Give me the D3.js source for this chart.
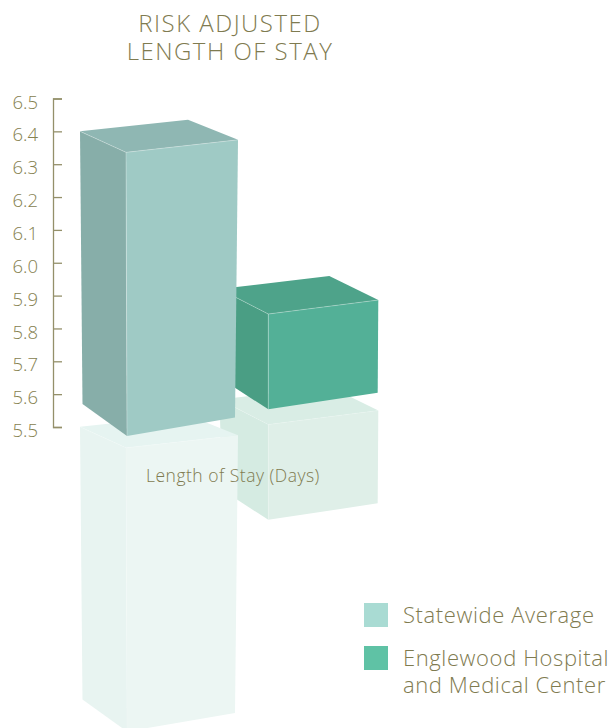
<!DOCTYPE html>
<html><head><meta charset="utf-8">
<script src="https://cdn.jsdelivr.net/npm/d3@7"></script>
<style>html,body{margin:0;padding:0;background:#fff}svg{display:block}
text{font-family:"Open Sans",sans-serif;font-weight:300;fill:#7f7b50}
.axis text{font-size:18.5px;fill:#85814f}.axis path,.axis line{stroke:#94906a;stroke-width:1.3;fill:none}</style>
</head><body><svg id="c" width="609" height="728"></svg>
<script>
// ---- data ----
const categories = ["Statewide Average", "Englewood Hospital and Medical Center"];
const values = [6.4, 5.92];
const baseValues = [5.57, 5.645];
const tickValues = [5.5, 5.6, 5.7, 5.8, 5.9, 6.0, 6.1, 6.2, 6.3, 6.4, 6.5];
const titleLines = ["RISK ADJUSTED", "LENGTH OF STAY"];
const axisLabel = "Length of Stay (Days)";
const legendLines = [["Statewide Average"], ["Englewood Hospital", "and Medical Center"]];

// ---- styles / projection ----
const palette = [
  {front:"#9fcac5", left:"#87aea9", top:"#8fb7b3", rFront:"#ecf6f3", rLeft:"#e8f4f1", rTop:"#e6f4f1", swatch:"#a9dbd3"},
  {front:"#53b097", left:"#4a9e84", top:"#4ea38a", rFront:"#dfefe8", rLeft:"#d5ebe2", rTop:"#d9ede5", swatch:"#5fc2a5"}
];
const projection = [
  {tf:[46,21], tr:[158,8.5], tb:[108,-11.5], bl:[2.5,0], bf:[47,32], br:[155,13.5], shift:295.5},
  {tf:[48.8,25], tr:[158.8,11], tb:[109.8,-13], bl:[2.5,0], bf:[48.8,30], br:[158.2,13.5], shift:110.5}
];

const svg = d3.select("#c");
const y = d3.scaleLinear().domain([5.5, 6.5]).range([427, 98.5]);
const x = d3.scaleBand().domain(categories).range([80, 359]);
const poly = d3.line();

function faces(i) {
  const p = projection[i], X = x(categories[i]), T = y(values[i]), B = y(baseValues[i]);
  const at = (o, Y) => [X + o[0], Y + o[1]];
  const tl = [X, T], tf = at(p.tf, T), tr = at(p.tr, T), tb = at(p.tb, T);
  const bl = at(p.bl, B), bf = at(p.bf, B), br = at(p.br, B);
  return {tl, tf, tr, tb, bl, bf, br};
}
function drawBar(i, reflected) {
  const f = faces(i), c = palette[i];
  const g = svg.append("g");
  if (reflected) g.attr("transform", `translate(0,${projection[i].shift})`);
  const fill = reflected ? [c.rLeft, c.rFront, c.rTop] : [c.left, c.front, c.top];
  [[f.tl, f.tf, f.bf, f.bl], [f.tf, f.tr, f.br, f.bf], [f.tl, f.tb, f.tr, f.tf]].forEach((pts, k) => {
    g.append("path").attr("d", poly(pts) + "Z").attr("fill", fill[k]);
  });
  g.append("path").attr("d", poly([f.tl, f.tf, f.tr]) + poly([f.tf, f.bf]))
    .attr("fill", "none").attr("stroke", "#fff")
    .attr("stroke-opacity", reflected ? 0.2 : 0.4).attr("stroke-width", 0.7);
}
drawBar(1, true);
drawBar(0, true);
drawBar(1, false);
drawBar(0, false);

// axis
const axis = d3.axisLeft(y).tickValues(tickValues).tickFormat(d3.format(".1f"))
  .tickSizeInner(-9).tickSizeOuter(-9).tickPadding(15);
const ax = svg.append("g").attr("class", "axis").attr("transform", "translate(53,0)").call(axis);
ax.selectAll("text").attr("dy", "0.52em").attr("font-family", null);

// title
svg.append("g").selectAll("text").data(titleLines).join("text")
  .attr("x", 230).attr("y", (d, i) => 32 + i * 28).attr("text-anchor", "middle")
  .attr("font-size", 24).style("letter-spacing", "1.5px").text(d => d);

svg.append("text").attr("x", 146).attr("y", 482).attr("font-size", 17.5)
  .style("letter-spacing", "0.5px").text(axisLabel);

// legend
const leg = svg.append("g").selectAll("g").data(categories).join("g")
  .attr("transform", (d, i) => `translate(364,${603 + i * 43})`);
leg.append("rect").attr("width", 24).attr("height", 24).attr("fill", (d, i) => palette[i].swatch);
leg.each(function (d, i) {
  d3.select(this).selectAll("text").data(legendLines[i]).join("text")
    .attr("x", 39).attr("y", (t, k) => 20 + k * 27)
    .attr("font-size", 22).style("letter-spacing", "0.6px").text(t => t);
});
</script></body></html>
